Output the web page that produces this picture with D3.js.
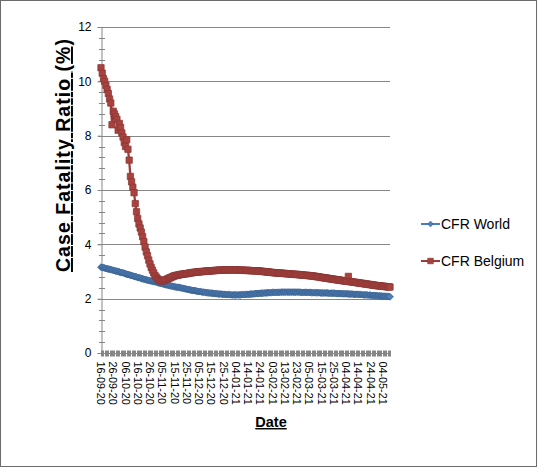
<!DOCTYPE html>
<html>
<head>
<meta charset="utf-8">
<script src="https://cdn.jsdelivr.net/npm/d3@7"></script>
<style>
  body { margin: 0; background: #fff; }
  text { font-family: Arial, "Liberation Sans", sans-serif; }
</style>
</head>
<body>
<div id="chart"></div>
<script>
// Daily categories, 16-09-20 .. 10-05-21
const startDate = new Date(2020, 8, 16);
const endDate = new Date(2021, 4, 11);

// Labels shown on the category axis (every 10th day)
const xTickLabels = ['16-09-20', '26-09-20', '06-10-20', '16-10-20', '26-10-20', '05-11-20',
  '15-11-20', '25-11-20', '05-12-20', '15-12-20', '25-12-20', '04-01-21', '14-01-21',
  '24-01-21', '03-02-21', '13-02-21', '23-02-21', '05-03-21', '15-03-21', '25-03-21',
  '04-04-21', '14-04-21', '24-04-21', '04-05-21'];

const yTicks = [0, 2, 4, 6, 8, 10, 12];

// CFR World (%), one value per day
const cfrWorld = [
  3.16, 3.15, 3.14, 3.13, 3.11, 3.10, 3.09, 3.08, 3.07, 3.06,
  3.04, 3.03, 3.02, 3.01, 3.00, 2.98, 2.97, 2.96, 2.95, 2.93,
  2.92, 2.90, 2.89, 2.88, 2.86, 2.85, 2.84, 2.82, 2.81, 2.80,
  2.78, 2.77, 2.76, 2.74, 2.73, 2.72, 2.71, 2.69, 2.68, 2.67,
  2.66, 2.65, 2.64, 2.63, 2.62, 2.61, 2.60, 2.58, 2.57, 2.56,
  2.55, 2.54, 2.52, 2.51, 2.50, 2.49, 2.48, 2.47, 2.46, 2.45,
  2.44, 2.43, 2.42, 2.42, 2.41, 2.40, 2.39, 2.38, 2.37, 2.36,
  2.35, 2.34, 2.33, 2.32, 2.31, 2.30, 2.30, 2.29, 2.28, 2.27,
  2.26, 2.26, 2.25, 2.24, 2.24, 2.23, 2.22, 2.22, 2.21, 2.21,
  2.20, 2.20, 2.19, 2.19, 2.18, 2.18, 2.17, 2.17, 2.17, 2.16,
  2.16, 2.16, 2.15, 2.15, 2.15, 2.15, 2.14, 2.14, 2.14, 2.14,
  2.14, 2.14, 2.14, 2.14, 2.14, 2.15, 2.15, 2.15, 2.15, 2.16,
  2.16, 2.16, 2.17, 2.17, 2.17, 2.18, 2.18, 2.19, 2.19, 2.19,
  2.20, 2.20, 2.20, 2.21, 2.21, 2.21, 2.22, 2.22, 2.22, 2.22,
  2.23, 2.23, 2.23, 2.23, 2.23, 2.23, 2.23, 2.24, 2.24, 2.24,
  2.24, 2.24, 2.24, 2.24, 2.24, 2.24, 2.24, 2.24, 2.24, 2.24,
  2.24, 2.24, 2.24, 2.23, 2.23, 2.23, 2.23, 2.23, 2.23, 2.23,
  2.23, 2.23, 2.22, 2.22, 2.22, 2.22, 2.22, 2.22, 2.22, 2.21,
  2.21, 2.21, 2.21, 2.21, 2.21, 2.21, 2.20, 2.20, 2.20, 2.20,
  2.20, 2.20, 2.19, 2.19, 2.19, 2.19, 2.19, 2.18, 2.18, 2.18,
  2.18, 2.18, 2.17, 2.17, 2.17, 2.17, 2.16, 2.16, 2.16, 2.16,
  2.16, 2.15, 2.15, 2.15, 2.14, 2.14, 2.14, 2.14, 2.13, 2.13,
  2.13, 2.12, 2.12, 2.12, 2.11, 2.11, 2.11, 2.10, 2.10, 2.10,
  2.09, 2.09, 2.09, 2.08, 2.08, 2.08, 2.07
];

// CFR Belgium (%), one value per day
const cfrBelgium = [
  10.5, 10.3, 10.1, 10.0, 9.85, 9.70, 9.55, 9.35, 9.20, 8.40,
  8.90, 8.80, 8.70, 8.60, 8.20, 8.45, 8.30, 8.10, 7.95, 7.75,
  7.60, 7.85, 7.50, 7.10, 6.50, 6.30, 6.10, 5.90, 5.50, 5.20,
  4.95, 4.75, 4.60, 4.45, 4.28, 4.10, 3.90, 3.72, 3.58, 3.42,
  3.28, 3.15, 3.05, 2.95, 2.86, 2.80, 2.74, 2.70, 2.67, 2.66,
  2.65, 2.66, 2.68, 2.70, 2.72, 2.74, 2.76, 2.78, 2.80, 2.82,
  2.84, 2.85, 2.86, 2.87, 2.88, 2.89, 2.90, 2.90, 2.91, 2.92,
  2.92, 2.93, 2.94, 2.95, 2.95, 2.96, 2.97, 2.97, 2.98, 2.98,
  2.99, 2.99, 3.00, 3.00, 3.00, 3.01, 3.01, 3.02, 3.02, 3.02,
  3.03, 3.03, 3.03, 3.04, 3.04, 3.04, 3.05, 3.05, 3.05, 3.05,
  3.05, 3.06, 3.06, 3.06, 3.06, 3.06, 3.06, 3.06, 3.06, 3.06,
  3.06, 3.06, 3.05, 3.05, 3.05, 3.05, 3.05, 3.04, 3.04, 3.04,
  3.04, 3.04, 3.03, 3.03, 3.03, 3.03, 3.03, 3.02, 3.02, 3.02,
  3.01, 3.01, 3.00, 3.00, 2.99, 2.99, 2.98, 2.98, 2.97, 2.97,
  2.96, 2.96, 2.95, 2.95, 2.95, 2.94, 2.94, 2.94, 2.93, 2.93,
  2.93, 2.92, 2.92, 2.92, 2.91, 2.91, 2.90, 2.90, 2.90, 2.89,
  2.89, 2.89, 2.88, 2.88, 2.87, 2.87, 2.86, 2.86, 2.86, 2.85,
  2.85, 2.84, 2.84, 2.83, 2.83, 2.82, 2.81, 2.81, 2.80, 2.79,
  2.78, 2.78, 2.77, 2.76, 2.76, 2.75, 2.74, 2.73, 2.73, 2.72,
  2.71, 2.71, 2.70, 2.69, 2.69, 2.68, 2.67, 2.67, 2.66, 2.65,
  2.65, 2.64, 2.82, 2.63, 2.62, 2.62, 2.61, 2.60, 2.60, 2.59,
  2.58, 2.58, 2.57, 2.56, 2.56, 2.55, 2.54, 2.54, 2.53, 2.52,
  2.52, 2.51, 2.50, 2.50, 2.49, 2.48, 2.48, 2.47, 2.47, 2.46,
  2.46, 2.45, 2.45, 2.44, 2.44, 2.43, 2.43
];

const seriesNames = ['CFR World', 'CFR Belgium'];

// Graph setup
const width = 537;
const height = 467;
const plotLeft = 101;
const plotRight = 390;
const plotTop = 27;
const plotBottom = 353;
const gridColor = '#868686';

const fmt = d3.timeFormat('%d-%m-%y');
const dates = d3.timeDay.range(startDate, endDate).map(d => fmt(d));

const svg = d3.select('#chart')
  .append('svg')
  .attr('width', width)
  .attr('height', height);

// outer chart border
svg.append('rect')
  .attr('x', 0.5).attr('y', 0.5)
  .attr('width', width - 1).attr('height', height - 1)
  .attr('fill', '#fff')
  .attr('stroke', '#6b6b6b');

const x = d3.scalePoint()
  .domain(dates)
  .range([plotLeft, plotRight]);

const y = d3.scaleLinear()
  .domain([0, 12])
  .range([plotBottom, plotTop]);

// horizontal gridlines
svg.append('g')
  .selectAll('line')
  .data(yTicks.filter(d => d > 0))
  .enter()
  .append('line')
  .attr('x1', plotLeft - 3)
  .attr('x2', plotRight)
  .attr('y1', d => Math.round(y(d)) + 0.5)
  .attr('y2', d => Math.round(y(d)) + 0.5)
  .attr('stroke', gridColor);

// y axis with major ticks and minor crossing ticks
const yAxis = svg.append('g')
  .attr('transform', `translate(${plotLeft + 0.5},0)`)
  .call(d3.axisLeft(y).tickValues(yTicks).tickSize(4).tickPadding(6));
yAxis.select('.domain').attr('stroke', gridColor);
yAxis.selectAll('.tick line').attr('stroke', gridColor);
yAxis.selectAll('.tick text')
  .attr('font-size', 12)
  .attr('fill', '#000')
  .style('font-family', 'Arial, "Liberation Sans", sans-serif');

const minorTicks = d3.range(0, 12.001, 0.4).filter(v => Math.abs(v / 2 - Math.round(v / 2)) > 0.01);
svg.append('g')
  .selectAll('line')
  .data(minorTicks)
  .enter()
  .append('line')
  .attr('x1', plotLeft - 2)
  .attr('x2', plotLeft + 4)
  .attr('y1', d => Math.round(y(d)) + 0.5)
  .attr('y2', d => Math.round(y(d)) + 0.5)
  .attr('stroke', gridColor);

// x axis: a tick at every day
const xAxis = svg.append('g')
  .attr('transform', `translate(0,${plotBottom + 0.5})`);
xAxis.append('line')
  .attr('x1', plotLeft).attr('x2', plotRight)
  .attr('stroke', gridColor);
xAxis.selectAll('.day-tick')
  .data(dates)
  .enter()
  .append('line')
  .attr('class', 'day-tick')
  .attr('x1', d => Math.round(x(d)) + 0.5)
  .attr('x2', d => Math.round(x(d)) + 0.5)
  .attr('y1', -3)
  .attr('y2', 3)
  .attr('stroke', gridColor);

xAxis.selectAll('.x-label')
  .data(xTickLabels)
  .enter()
  .append('text')
  .attr('class', 'x-label')
  .attr('transform', d => `translate(${x(d)},8) rotate(90)`)
  .attr('dy', '0.35em')
  .attr('font-size', 10.8)
  .attr('fill', '#000')
  .text(d => d);

// axis titles
svg.append('text')
  .attr('transform', `translate(70,${(39 + 272) / 2}) rotate(-90)`)
  .attr('text-anchor', 'middle')
  .attr('font-size', 19.5)
  .attr('font-weight', 'bold')
  .attr('textLength', 233)
  .attr('lengthAdjust', 'spacing')
  .style('text-decoration', 'underline')
  .text('Case Fatality Ratio (%)');

svg.append('text')
  .attr('x', 271)
  .attr('y', 427)
  .attr('text-anchor', 'middle')
  .attr('font-size', 14.5)
  .attr('font-weight', 'bold')
  .style('text-decoration', 'underline')
  .text('Date');

// series
const styles = [
  { values: cfrWorld, line: '#4a7ebb', fill: '#4f81bd', stroke: '#385d8a', symbol: d3.symbolDiamond2, size: 30 },
  { values: cfrBelgium, line: '#9e3b38', fill: '#a8423f', stroke: '#8c3836', symbol: d3.symbolSquare, size: 40 }
];

const line = d3.line()
  .x((d, i) => x(dates[i]))
  .y(d => y(d));

styles.forEach(s => {
  const g = svg.append('g');
  g.append('path')
    .datum(s.values)
    .attr('d', line)
    .attr('fill', 'none')
    .attr('stroke', s.line)
    .attr('stroke-width', 2.25);
  g.selectAll('path.marker')
    .data(s.values)
    .enter()
    .append('path')
    .attr('class', 'marker')
    .attr('d', d3.symbol().type(s.symbol).size(s.size))
    .attr('transform', (d, i) => `translate(${x(dates[i])},${y(d)})`)
    .attr('fill', s.fill)
    .attr('stroke', s.stroke)
    .attr('stroke-width', 0.75);
});

// legend
const legend = svg.append('g');
const legendY = [224, 261];
seriesNames.forEach((name, i) => {
  const s = styles[i];
  legend.append('line')
    .attr('x1', 421).attr('x2', 440)
    .attr('y1', legendY[i]).attr('y2', legendY[i])
    .attr('stroke', s.line)
    .attr('stroke-width', 2);
  legend.append('path')
    .attr('d', d3.symbol().type(s.symbol).size(i === 0 ? 20 : 30))
    .attr('transform', `translate(430.5,${legendY[i]})`)
    .attr('fill', s.fill)
    .attr('stroke', s.stroke)
    .attr('stroke-width', 0.75);
  legend.append('text')
    .attr('x', 441)
    .attr('y', legendY[i])
    .attr('dy', '0.35em')
    .attr('font-size', 14)
    .attr('fill', '#000')
    .text(name);
});
</script>
</body>
</html>
